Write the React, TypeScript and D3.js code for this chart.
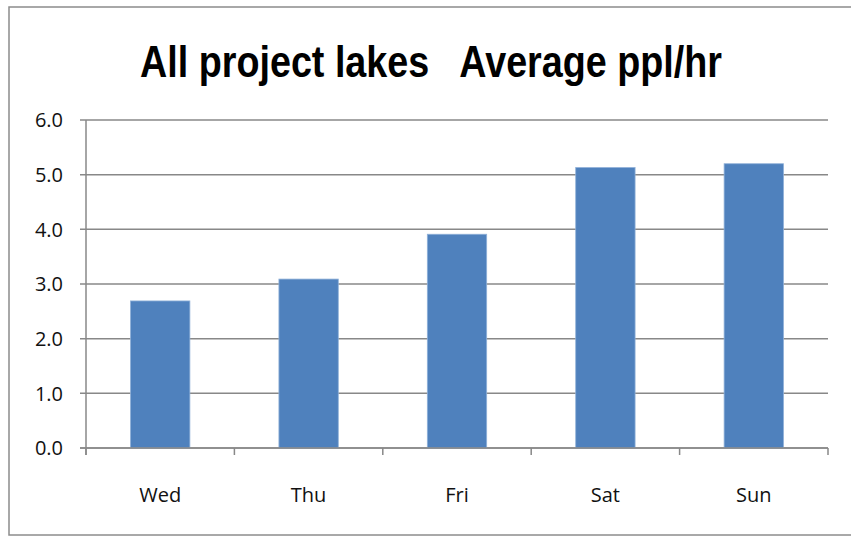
import React, { useEffect, useRef } from 'react';
import * as d3 from 'd3';

const days = ['Wed', 'Thu', 'Fri', 'Sat', 'Sun'];
const avgPplPerHr = [2.69, 3.09, 3.91, 5.13, 5.2];
const yTicks = [0, 1, 2, 3, 4, 5, 6];

const App = () => {
  const svgRef = useRef<SVGSVGElement>(null);
  const width = 851;
  const height = 536;
  const margin = { left: 86, right: 23, top: 120, bottom: 88 };

  useEffect(() => {
    const svg = d3.select(svgRef.current);
    svg.selectAll('*').remove();

    // chart border
    svg.append('rect')
      .attr('x', 9).attr('y', 7)
      .attr('width', width + 5).attr('height', height - 8)
      .attr('fill', 'white')
      .attr('stroke', '#8c8c8c')
      .attr('stroke-width', 1.5);

    const xScale = d3.scaleBand()
      .domain(days)
      .range([margin.left, width - margin.right])
      .padding(0);

    const yScale = d3.scaleLinear()
      .domain([0, 6])
      .range([height - margin.bottom, margin.top]);

    // gridlines
    svg.append('g')
      .selectAll('line')
      .data(yTicks)
      .enter()
      .append('line')
      .attr('x1', margin.left - 6)
      .attr('x2', width - margin.right)
      .attr('y1', d => yScale(d))
      .attr('y2', d => yScale(d))
      .attr('stroke', '#888')
      .attr('stroke-width', 1.5);

    // y tick labels
    svg.append('g')
      .selectAll('text')
      .data(yTicks)
      .enter()
      .append('text')
      .attr('x', 63)
      .attr('y', d => yScale(d))
      .attr('dy', '0.36em')
      .attr('text-anchor', 'end')
      .style('font-family', 'Open Sans, sans-serif')
      .style('font-size', '20px')
      .style('fill', '#111')
      .text(d => d.toFixed(1));

    // bars
    const barW = xScale.bandwidth() * 0.4;
    svg.append('g')
      .selectAll('rect')
      .data(avgPplPerHr)
      .enter()
      .append('rect')
      .attr('x', (d, i) => (xScale(days[i]) as number) + (xScale.bandwidth() - barW) / 2)
      .attr('y', d => yScale(d))
      .attr('width', barW)
      .attr('height', d => yScale(0) - yScale(d))
      .attr('fill', '#4f81bd')
      .attr('stroke', '#8fb0d8')
      .attr('stroke-width', 0.8);

    // y axis line
    svg.append('line')
      .attr('x1', margin.left).attr('x2', margin.left)
      .attr('y1', yScale(6)).attr('y2', yScale(0) + 7)
      .attr('stroke', '#888').attr('stroke-width', 1.5);

    // x axis line
    svg.append('line')
      .attr('x1', margin.left - 6).attr('x2', width - margin.right)
      .attr('y1', yScale(0)).attr('y2', yScale(0))
      .attr('stroke', '#888').attr('stroke-width', 1.5);

    // category ticks
    const edges = days.map(d => xScale(d) as number).concat([width - margin.right]);
    svg.append('g')
      .selectAll('line')
      .data(edges)
      .enter()
      .append('line')
      .attr('x1', d => d).attr('x2', d => d)
      .attr('y1', yScale(0)).attr('y2', yScale(0) + 7)
      .attr('stroke', '#888').attr('stroke-width', 1.5);

    // category labels
    svg.append('g')
      .selectAll('text')
      .data(days)
      .enter()
      .append('text')
      .attr('x', d => (xScale(d) as number) + xScale.bandwidth() / 2)
      .attr('y', 502)
      .attr('text-anchor', 'middle')
      .style('font-family', 'Open Sans, sans-serif')
      .style('font-size', '20px')
      .style('fill', '#111')
      .text(d => d);

    // title
    svg.append('text')
      .attr('x', 431)
      .attr('y', 77)
      .attr('text-anchor', 'middle')
      .attr('textLength', 582)
      .attr('lengthAdjust', 'spacingAndGlyphs')
      .style('font-family', 'Liberation Sans, Arial, sans-serif')
      .style('font-weight', 'bold')
      .style('font-size', '45px')
      .style('fill', '#000')
      .style('white-space', 'pre')
      .text('All project lakes   Average ppl/hr');
  }, []);

  return (
    <svg ref={svgRef} width={width} height={height}
      style={{ position: 'absolute', left: 0, top: 0 }}></svg>
  );
};

export default App;
